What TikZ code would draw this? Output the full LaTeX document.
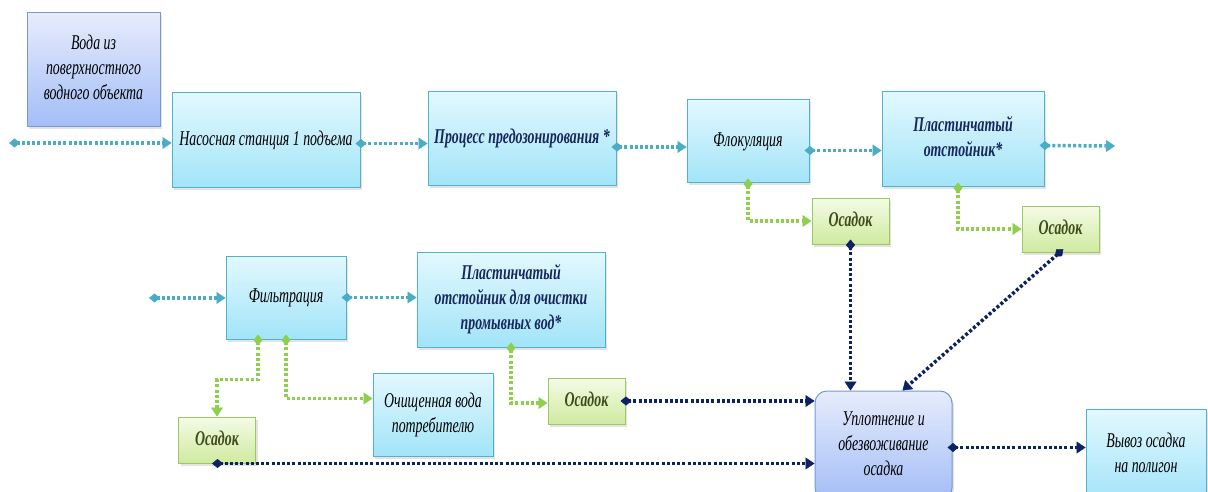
\documentclass[tikz,border=0pt]{standalone}
\usepackage{fontspec}
\setmainfont{Liberation Serif}
\usetikzlibrary{arrows.meta,shadows}

\definecolor{cyanTop}{HTML}{E2F8FE}
\definecolor{cyanBot}{HTML}{A2E4F8}
\definecolor{cyanEdge}{HTML}{52B2CC}
\definecolor{blueTop}{HTML}{E6ECFC}
\definecolor{blueBot}{HTML}{A3BDF7}
\definecolor{blueEdge}{HTML}{7898D4}
\definecolor{greenTop}{HTML}{F4FBE6}
\definecolor{greenBot}{HTML}{CFEAA0}
\definecolor{greenEdge}{HTML}{9BC862}
\definecolor{flowCyan}{HTML}{4BACC6}
\definecolor{flowGreen}{HTML}{8FCF4E}
\definecolor{flowNavy}{HTML}{0C2262}
\definecolor{navyText}{HTML}{17275E}
\definecolor{oliveText}{HTML}{3F4D18}

% condensed, centred multi-line label
\newcommand\narrowlabel[1]{\scalebox{0.66}[1]{\begin{tabular}{@{}c@{}}#1\end{tabular}}}

\tikzset{
  box/.style={draw, line width=1pt, align=center, inner sep=0pt,
    font=\itshape\fontsize{21}{25}\selectfont,
    drop shadow={shadow xshift=2pt, shadow yshift=-2.5pt, opacity=0.22}},
  cbox/.style={box, draw=cyanEdge, top color=cyanTop, bottom color=cyanBot},
  bbox/.style={box, draw=blueEdge, top color=blueTop, bottom color=blueBot},
  gbox/.style={box, draw=greenEdge, top color=greenTop, bottom color=greenBot,
    minimum width=77pt, minimum height=46pt,
    font=\bfseries\itshape\fontsize{21}{25}\selectfont, text=oliveText},
  strong/.style={font=\bfseries\itshape\fontsize{21}{25}\selectfont, text=navyText},
  flow/.style={line width=3.5pt, dash pattern=on 3pt off 2.2pt, shorten <=-5pt,
    {Diamond[length=11pt,width=9pt,line width=0.5pt]}-{Triangle[length=9pt,width=12pt,line width=0.5pt]}},
  cflow/.style={flow, draw=flowCyan},
  gflow/.style={flow, draw=flowGreen},
  nflow/.style={flow, draw=flowNavy},
}

\begin{document}
\begin{tikzpicture}[x=1pt,y=-1pt]
\useasboundingbox (0,0) rectangle (1208,492);
\clip (0,0) rectangle (1208,492);

% upper treatment line
\node[bbox, minimum width=133pt, minimum height=114pt] (voda) at (93.5,70)
  {\narrowlabel{Вода из\\поверхностного\\водного объекта}};
\node[cbox, minimum width=188pt, minimum height=95pt] (nasos) at (266,140.5)
  {\narrowlabel{Насосная станция 1 подъема}};
\node[cbox, strong, minimum width=188pt, minimum height=94pt] (proc) at (522,139)
  {\narrowlabel{Процесс предозонирования *}};
\node[cbox, minimum width=122pt, minimum height=83pt] (flok) at (748,141.5)
  {\narrowlabel{Флокуляция}};
\node[cbox, strong, minimum width=162pt, minimum height=95pt] (plast) at (963,139.5)
  {\narrowlabel{Пластинчатый\\отстойник*}};
\node[gbox] (os1) at (850.5,221) {\narrowlabel{Осадок}};
\node[gbox] (os2) at (1060.5,229) {\narrowlabel{Осадок}};

% lower treatment line
\node[cbox, minimum width=120pt, minimum height=83pt] (filt) at (286,297.5)
  {\narrowlabel{Фильтрация}};
\node[cbox, strong, minimum width=188pt, minimum height=95pt] (plast2) at (511,299.5)
  {\narrowlabel{Пластинчатый\\отстойник для очистки\\промывных вод*}};
\node[cbox, minimum width=120pt, minimum height=83pt] (ochish) at (433,414.5)
  {\narrowlabel{Очищенная вода\\потребителю}};
\node[gbox] (os3) at (217,440) {\narrowlabel{Осадок}};
\node[gbox] (os4) at (586.5,401) {\narrowlabel{Осадок}};

% sludge handling
\node[bbox, rounded corners=12pt, minimum width=137pt, minimum height=109pt] (uplot) at (883.5,445.5)
  {\narrowlabel{Уплотнение и\\обезвоживание\\осадка}};
\node[cbox, minimum width=120pt, minimum height=92pt] (vyvoz) at (1146,455)
  {\narrowlabel{Вывоз осадка\\на полигон}};

\coordinate (in1) at (14,143);
\coordinate (out1) at (1115,146);
\coordinate (in2) at (154,298);

% water flow
\draw[cflow] (in1) -- (in1 -| nasos.west);
\draw[cflow] ([yshift=-3pt]nasos.east) -- ([yshift=-3pt]nasos.east -| proc.west);
\draw[cflow] ([yshift=-8pt]proc.east) -- ([yshift=-8pt]proc.east -| flok.west);
\draw[cflow] ([yshift=-9pt]flok.east) -- ([yshift=-9pt]flok.east -| plast.west);
\draw[cflow] ([yshift=-6pt]plast.east) -- (out1);
\draw[cflow] (in2) -- (in2 -| filt.west);
\draw[cflow] (filt.east) -- (filt.east -| plast2.west);

% sludge and product branches
\draw[gflow] (flok.south) |- (os1.west);
\draw[gflow] ([xshift=-5pt]plast.south) |- (os2.west);
\draw[gflow] ([xshift=-28pt]filt.south) -- ++(0,40) -| (os3.north);
\draw[gflow] (filt.south) |- ([yshift=16pt]ochish.west);
\draw[gflow] (plast2.south) |- ([yshift=-2pt]os4.west);

% sludge to thickening
\draw[nflow] (os1.south) -- (os1.south |- uplot.north);
\draw[nflow] ([xshift=-1pt]os2.south) -- ([xshift=19pt]uplot.north);
\draw[nflow] (os4.east) -- (os4.east -| uplot.west);
\draw[nflow] (os3.south) -- (os3.south -| uplot.west);
\draw[nflow] ([yshift=-2pt]uplot.east) -- ([yshift=-2pt]uplot.east -| vyvoz.west);
\end{tikzpicture}
\end{document}
